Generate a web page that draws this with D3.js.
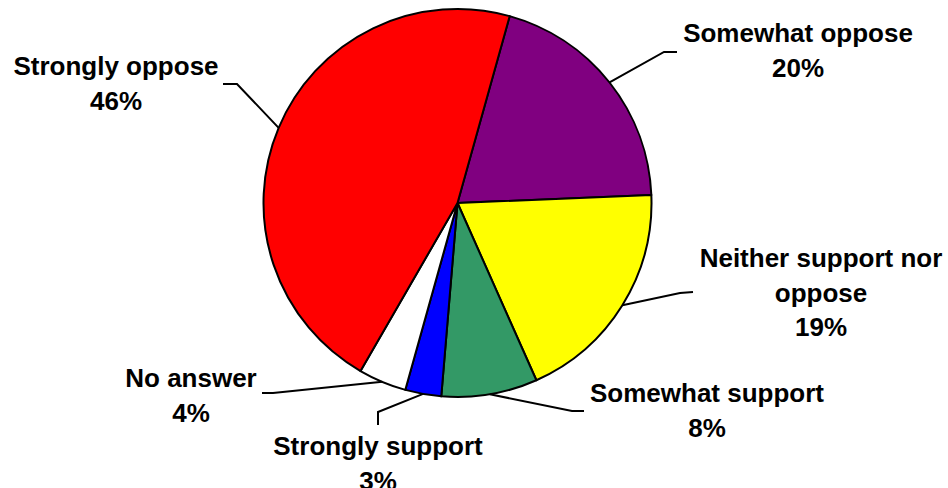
<!DOCTYPE html>
<html>
<head>
<meta charset="utf-8">
<script src="https://cdn.jsdelivr.net/npm/d3@7"></script>
<style>
  html, body { margin: 0; padding: 0; background: #fff; }
  svg { display: block; }
  text { font-family: "Liberation Sans", Arial, sans-serif; font-weight: bold; font-size: 26px; fill: #000; }
</style>
</head>
<body>
<svg id="chart" width="948" height="488"></svg>
<script>
// Survey responses, in drawing order (clockwise)
const categories = ["Somewhat oppose", "Neither support nor oppose", "Somewhat support", "Strongly support", "No answer", "Strongly oppose"];
const percents   = [20, 19, 8, 3, 4, 46];
const colors     = ["#800080", "#FFFF00", "#339966", "#0000FF", "#FFFFFF", "#FF0000"];

// Label text lines and placement for each slice
const labelLines = {
  "Somewhat oppose": ["Somewhat oppose"],
  "Neither support nor oppose": ["Neither support nor", "oppose"],
  "Somewhat support": ["Somewhat support"],
  "Strongly support": ["Strongly support"],
  "No answer": ["No answer"],
  "Strongly oppose": ["Strongly oppose"]
};
const labelLayout = {
  "Somewhat oppose":            { x: 798, y: 42,  leader: [[664, 52], [677, 52]] },
  "Neither support nor oppose": { x: 821, y: 267, leader: [[680, 293], [693, 292]] },
  "Somewhat support":           { x: 707, y: 402, leader: [[572, 411], [584, 411]] },
  "Strongly support":           { x: 378, y: 455, leader: [[378, 412], [378, 425]] },
  "No answer":                  { x: 191, y: 387, leader: [[273, 393], [262, 393]] },
  "Strongly oppose":            { x: 116, y: 75,  leader: [[237, 84], [223, 84]] }
};
const lineHeight = 34.5;

const svg = d3.select("#chart");
const cx = 457.5, cy = 203, r = 194;

const data = categories.map((c, i) => ({ category: c, value: percents[i], color: colors[i] }));

const pie = d3.pie()
  .sort(null)
  .value(d => d.value)
  .startAngle(15.6 * Math.PI / 180)
  .endAngle(15.6 * Math.PI / 180 + 2 * Math.PI);

const arcs = pie(data);
const arc = d3.arc().innerRadius(0).outerRadius(r);
const edge = d3.arc().innerRadius(r).outerRadius(r);

const g = svg.append("g").attr("transform", `translate(${cx},${cy})`);

g.selectAll("path.slice")
  .data(arcs)
  .join("path")
  .attr("class", "slice")
  .attr("d", arc)
  .attr("fill", d => d.data.color)
  .attr("stroke", "#000")
  .attr("stroke-width", 2)
  .attr("stroke-linejoin", "round");

// Leader lines from slice edge to label
const lineGen = d3.line();
svg.selectAll("path.leader")
  .data(arcs)
  .join("path")
  .attr("class", "leader")
  .attr("d", d => {
    const [ex, ey] = edge.centroid(d);
    const pts = [[cx + ex, cy + ey]].concat(labelLayout[d.data.category].leader);
    return lineGen(pts);
  })
  .attr("fill", "none")
  .attr("stroke", "#000")
  .attr("stroke-width", 2);

// Labels: category name lines plus percentage
const labels = svg.selectAll("text.label")
  .data(arcs)
  .join("text")
  .attr("class", "label")
  .attr("text-anchor", "middle")
  .attr("x", d => labelLayout[d.data.category].x)
  .attr("y", d => labelLayout[d.data.category].y);

labels.each(function(d) {
  const t = d3.select(this);
  const lay = labelLayout[d.data.category];
  const lines = labelLines[d.data.category].concat([d3.format(".0f")(d.data.value) + "%"]);
  lines.forEach((ln, i) => {
    t.append("tspan")
      .attr("x", lay.x)
      .attr("y", lay.y + i * lineHeight)
      .text(ln);
  });
});
</script>
</body>
</html>
